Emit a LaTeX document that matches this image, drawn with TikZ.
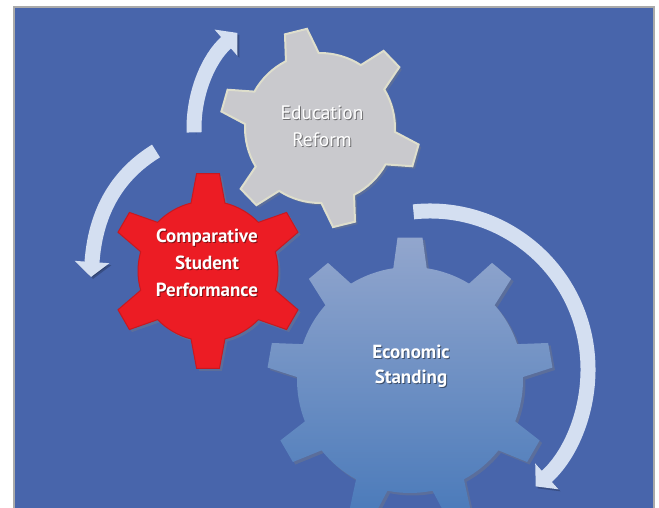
\documentclass[tikz,border=0pt]{standalone}
\usepackage{fontspec}
\setmainfont{PT Sans}
\usetikzlibrary{arrows.meta,shadows}
\definecolor{bgblue}{RGB}{72,101,171}
\definecolor{framegray}{RGB}{170,170,170}
\definecolor{gearred}{RGB}{236,28,36}
\definecolor{geargray}{RGB}{201,201,205}
\definecolor{gearedge}{RGB}{222,222,204}
\definecolor{bluetop}{RGB}{146,166,205}
\definecolor{bluebot}{RGB}{74,122,186}
\definecolor{arrowc}{RGB}{212,223,241}
% #1 teeth, #2 first tooth angle, #3 tip radius, #4 root radius, #5 half tip angle, #6 half base angle
\newcommand\gearpath[6]{%
  ({#2-#6}:#4)
  \foreach \k [evaluate=\k as \a using #2+(\k-1)*360/#1] in {1,...,#1}{
    -- ({\a-#6}:#4) -- ({\a-#5}:#3) -- ({\a+#5}:#3) -- ({\a+#6}:#4)
    arc[start angle=\a+#6, end angle=\a+360/#1-#6, radius=#4]
  } -- cycle}
\tikzset{
  gshadow/.style={drop shadow={shadow xshift=2.5pt, shadow yshift=-2.5pt, opacity=0.35}},
  bluegear/.style={top color=bluetop, bottom color=bluebot, draw=none, gshadow},
  graygear/.style={fill=geargray, draw=gearedge, line width=2pt, gshadow},
  redgear/.style={fill=gearred, draw=gearred!85!black, line width=1pt, gshadow},
  cyc/.style={draw=arrowc, line width=15pt, -{Triangle[width=34pt,length=15pt]},
    preaction={draw=black, opacity=0.22, transform canvas={shift={(2,-2)}}}},
  lbl/.style={align=center, text=white, inner sep=0pt},
  lblsh/.style={lbl, text=black, text opacity=0.45},
  regfont/.style={font=\fontsize{19.5}{27}\selectfont},
  boldfont/.style={font=\fontsize{19}{27}\selectfont\bfseries},
  boldfontb/.style={font=\fontsize{19}{25}\selectfont\bfseries},
}
\begin{document}
\begin{tikzpicture}[x=1pt,y=1pt]
\useasboundingbox (0,0) rectangle (659,508);
\fill[white] (0,0) rectangle (659,508);
\fill[bgblue] (14,0) rectangle (654,501);
\draw[framegray, line width=1.2pt] (14,0) -- (14,501) -- (654,501) -- (654,0);
\coordinate (gc) at (320,380);
\coordinate (rc) at (208,237);
\coordinate (bc) at (410,128);
\coordinate (ac) at (430,139);
\coordinate (la) at (156,357);
\coordinate (lb) at (91,231);
\begin{scope}
\clip (14,0) rectangle (654,501);
% blue gear
\begin{scope}[shift={(bc)}]
\path[bluegear] \gearpath{9}{90}{143}{113}{5}{8.5};
\end{scope}
% gray gear
\begin{scope}[shift={(gc)}]
\path[graygear] \gearpath{6}{104}{100}{75}{6.5}{13};
\end{scope}
% red gear
\begin{scope}[shift={(rc)}]
\path[redgear] \gearpath{6}{90}{98}{70}{6.7}{14};
\end{scope}
% arrows
\draw[cyc] ([shift={(182:126)}]gc) arc[start angle=182, end angle=131, radius=126];
\draw[cyc] (la) .. controls (125,338) and (96,305) .. (lb);
\draw[cyc] ([shift={(96:158)}]ac) arc[start angle=96, end angle=-48, radius=158];
\end{scope}
% labels
\node[lblsh, regfont] (edush) at (323,380.5) {Education\\Reform};
\node[lbl, regfont] (edu) at (322,381.5) {Education\\Reform};
\node[lblsh, boldfont] (csush) at (208,244.5) {Comparative\\Student\\Performance};
\node[lbl, boldfont] (csu) at (207,245.5) {Comparative\\Student\\Performance};
\node[lblsh, boldfontb] (ecosh) at (412,140.5) {Economic\\Standing};
\node[lbl, boldfontb] (eco) at (411,141.5) {Economic\\Standing};
\end{tikzpicture}
\end{document}
